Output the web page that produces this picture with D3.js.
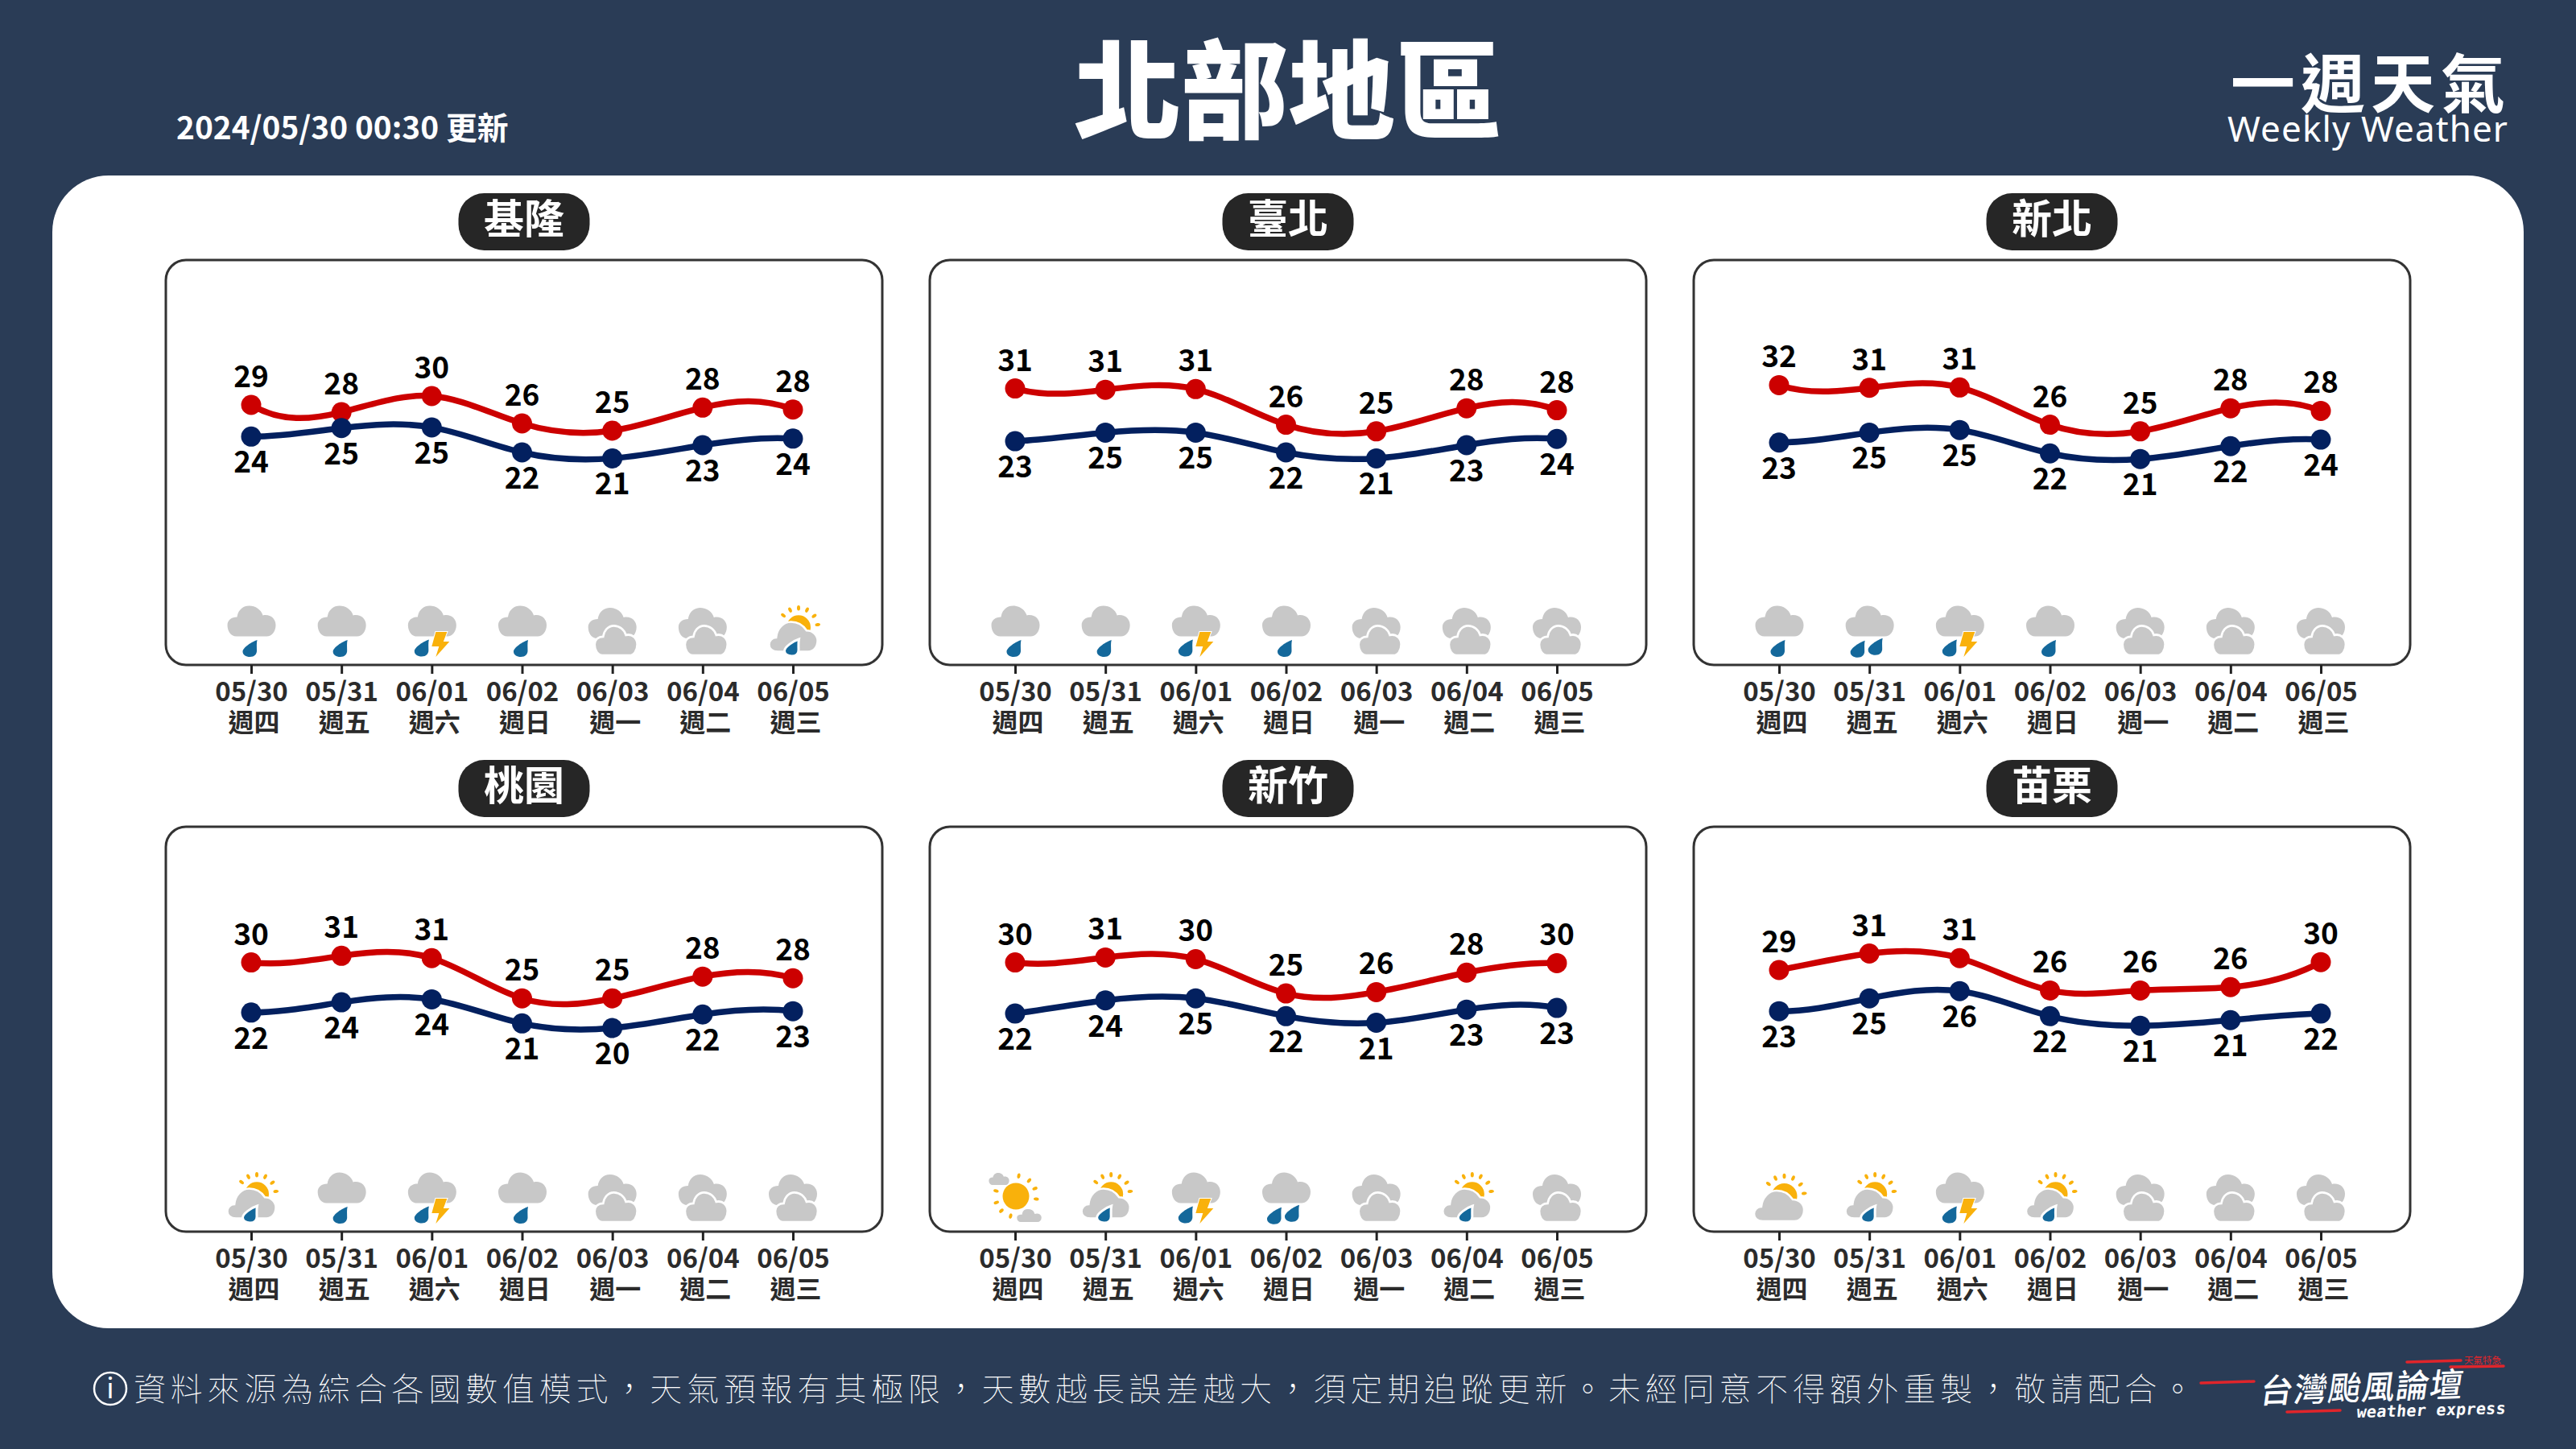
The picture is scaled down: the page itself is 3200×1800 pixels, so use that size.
<!DOCTYPE html>
<html>
  <head>
    <meta charset="utf-8">
    <title>北部地區 一週天氣</title>
    <script src="https://d3js.org/d3.v7.min.js"></script>
    <style>
      html, body { margin: 0; padding: 0; background: #2a3c56; }
      svg { display: block; }
      text { font-family: "Noto Sans CJK TC", "Noto Sans", sans-serif; }
    </style>
  </head>
  <body>
    <script>
      // values, one row per city
      const cities = ["基隆", "臺北", "新北", "桃園", "新竹", "苗栗"];
      const dates = ["05/30", "05/31", "06/01", "06/02", "06/03", "06/04", "06/05"];
      const weekdays = ["週四", "週五", "週六", "週日", "週一", "週二", "週三"];
      const highValues = [
        [28.7, 27.6, 30.05, 25.9, 24.8, 28.3, 28.0],
        [31.2, 31.0, 31.1, 25.7, 24.7, 28.2, 27.9],
        [31.7, 31.3, 31.35, 25.7, 24.7, 28.2, 27.8],
        [30.1, 31.1, 30.75, 24.65, 24.65, 27.95, 27.7],
        [30.1, 30.85, 30.6, 25.4, 25.6, 28.55, 30.0],
        [28.95, 31.45, 30.75, 25.85, 25.85, 26.35, 30.15]
      ];
      const lowValues = [
        [23.9, 25.2, 25.3, 21.5, 20.6, 22.6, 23.6],
        [23.2, 24.5, 24.5, 21.5, 20.6, 22.6, 23.55],
        [23.0, 24.5, 24.9, 21.35, 20.5, 22.45, 23.45],
        [22.5, 24.05, 24.5, 20.85, 20.15, 22.2, 22.7],
        [22.35, 24.35, 24.65, 21.95, 20.95, 22.95, 23.2],
        [22.7, 24.65, 25.75, 21.95, 20.5, 21.35, 22.35]
      ];
      const highLabels = [
        [29, 28, 30, 26, 25, 28, 28],
        [31, 31, 31, 26, 25, 28, 28],
        [32, 31, 31, 26, 25, 28, 28],
        [30, 31, 31, 25, 25, 28, 28],
        [30, 31, 30, 25, 26, 28, 30],
        [29, 31, 31, 26, 26, 26, 30]
      ];
      const lowLabels = [
        [24, 25, 25, 22, 21, 23, 24],
        [23, 25, 25, 22, 21, 23, 24],
        [23, 25, 25, 22, 21, 22, 24],
        [22, 24, 24, 21, 20, 22, 23],
        [22, 24, 25, 22, 21, 23, 23],
        [23, 25, 26, 22, 21, 21, 22]
      ];
      const weather = [
        ["rain", "rain", "thunder", "rain", "cloudy", "cloudy", "sunrain"],
        ["rain", "rain", "thunder", "rain", "cloudy", "cloudy", "cloudy"],
        ["rain", "rain2", "thunder", "rain", "cloudy", "cloudy", "cloudy"],
        ["sunrain", "rain", "thunder", "rain", "cloudy", "cloudy", "cloudy"],
        ["sunny", "sunrain", "thunder", "rain2", "cloudy", "sunrain", "cloudy"],
        ["suncloud", "sunrain", "thunder", "sunrain", "cloudy", "cloudy", "cloudy"]
      ];
      const notice = "資料來源為綜合各國數值模式，天氣預報有其極限，天數越長誤差越大，須定期追蹤更新。未經同意不得額外重製，敬請配合。";

      const bg = "#2a3c56", red = "#cc0000", navy = "#03205f";
      const grey = "#c8c8c8", sunColor = "#f9b10b", dropColor = "#14689b";

      const svg = d3.select("body").append("svg")
          .attr("width", 3200)
          .attr("height", 1800);

      svg.append("rect").attr("width", 3200).attr("height", 1800).attr("fill", bg);
      svg.append("rect")
          .attr("x", 65).attr("y", 218)
          .attr("width", 3070).attr("height", 1432)
          .attr("rx", 70)
          .attr("fill", "#fff");

      // header
      function label(parent, str, x, y, size, weight, fill, anchor) {
        return parent.append("text")
            .attr("x", x).attr("y", y)
            .attr("font-size", size)
            .attr("font-weight", weight)
            .attr("fill", fill)
            .attr("text-anchor", anchor || "start")
            .text(str);
      }
      label(svg, "北部地區", 1600, 162, 133, 900, "#fff", "middle");
      label(svg, "2024/05/30 00:30 更新", 219, 173, 38.8, 700, "#fff");
      label(svg, "一週天氣", 2771, 133, 80, 700, "#fff").attr("letter-spacing", 7);
      label(svg, "Weekly Weather", 2767, 176, 44, 400, "#fff")
          .style("font-family", "'Noto Sans', sans-serif")
          .attr("textLength", 348);

      // footer
      svg.append("circle").attr("cx", 137).attr("cy", 1725).attr("r", 20)
          .attr("fill", "none").attr("stroke", "#fff").attr("stroke-width", 2.5);
      label(svg, "i", 137, 1737, 34, 400, "#fff", "middle");
      label(svg, notice, 166, 1740, 40, 100, "#fff").attr("letter-spacing", 5.8);

      // forum logo
      const logo = svg.append("g");
      [[2990, 1692, 3057, 1690], [3044, 1698, 3110, 1697], [2734, 1718, 2800, 1716], [2841, 1754, 2907, 1752]]
        .forEach(d => logo.append("line")
            .attr("x1", d[0]).attr("y1", d[1]).attr("x2", d[2]).attr("y2", d[3])
            .attr("stroke", "#e0252b").attr("stroke-width", 3.5).attr("stroke-linecap", "round"));
      label(logo, "天氣特急", 3061, 1694, 11.5, 400, "#e0252b");
      label(logo, "台灣颱風論壇", 0, 0, 41, 500, "#fff")
          .attr("transform", "translate(2806,1743) rotate(-2) skewX(-10)")
          .attr("textLength", 252);
      label(logo, "weather express", 0, 0, 20, 700, "#fff")
          .style("font-family", "'DejaVu Sans Mono', monospace")
          .attr("transform", "translate(2927,1761) rotate(-1.5) skewX(-8)")
          .attr("textLength", 185);

      // icon pieces, all drawn around their own centre
      const cloudPath = "M-19,19C-26,19 -30,12 -30,5C-30,-1 -25,-5 -18,-5C-17,-13 -11,-19 -3,-19C5,-19 12,-14 14,-7C23,-9 30,-3 30,5C30,13 25,19 19,19Z";
      const sunCloudPath = "M-20,19C-27,19 -31,15 -31,10C-31,5 -27,1 -22,1C-21,-10 -13,-19 -3,-19C6,-19 13,-14 17,-8C25,-8 31,-2 31,5C31,13 26,19 19,19Z";
      const dropPath = "M8.5,-10.5C2,-8.5 -9.5,-1 -9.5,4C-9.5,8 -5.5,10.5 -0.5,10.5C5,10.5 8,7 8,3C8,-2 7.5,-6 8.5,-10.5Z";
      const boltPath = "M5,-41L19,-41L14.5,-29L22,-29L5,-10L9,-23L0,-23Z";

      function cloud(g, x, y, sx, sy, outline, path) {
        g.append("path")
            .attr("d", path || cloudPath)
            .attr("transform", `translate(${x},${y}) scale(${sx},${sy})`)
            .attr("fill", grey)
            .attr("stroke", outline ? "#fff" : "none")
            .attr("stroke-width", outline ? 2.5 / sx : 0);
      }
      function drop(g, x, y, outline) {
        g.append("path")
            .attr("d", dropPath)
            .attr("transform", `translate(${x},${y})`)
            .attr("fill", dropColor)
            .attr("stroke", outline ? "#fff" : "none")
            .attr("stroke-width", outline ? 3 : 0);
      }
      function rays(g, x, y, radius, angles) {
        angles.forEach(a => {
          g.append("ellipse")
              .attr("rx", 3.3).attr("ry", 2)
              .attr("fill", sunColor)
              .attr("transform", `translate(${x},${y}) rotate(${a}) translate(${radius},0)`);
        });
      }
      function sun(g, x, y, r, angles) {
        rays(g, x, y, r + 9, angles);
        g.append("circle").attr("cx", x).attr("cy", y).attr("r", r).attr("fill", sunColor);
      }

      const halfSunAngles = [-142, -116, -90, -64, -36, -8];
      const fullSunAngles = [-82, -50, -22, 8, 48, 105, 135, 162, 195];

      function drawIcon(g, kind) {
        if (kind === "rain" || kind === "rain2" || kind === "thunder") {
          cloud(g, 0.5, -54.5, 1, 1);
        }
        if (kind === "rain") drop(g, -1, -20.5);
        if (kind === "rain2") {
          drop(g, -14, -19.7);
          drop(g, 8, -22.7);
        }
        if (kind === "thunder") {
          drop(g, -12, -21);
          g.append("path").attr("d", boltPath).attr("fill", sunColor)
              .attr("stroke", "#fff").attr("stroke-width", 2).attr("paint-order", "stroke");
        }
        if (kind === "cloudy") {
          cloud(g, 0, -52, 1, 1);
          cloud(g, 4.5, -30.3, 0.88, 0.97, true);
        }
        if (kind === "sunrain") {
          sun(g, 7, -46.7, 15, halfSunAngles);
          cloud(g, 0.5, -35, 0.97, 0.97, true, sunCloudPath);
          drop(g, -1, -21.5, true);
        }
        if (kind === "suncloud") {
          sun(g, 6.5, -44, 16, halfSunAngles);
          cloud(g, 0, -32, 1, 1, true, sunCloudPath);
        }
        if (kind === "sunny") {
          sun(g, 1, -44, 16.5, fullSunAngles);
          cloud(g, -20, -65.5, 0.42, 0.4);
          cloud(g, 17.5, -20, 0.55, 0.48, true);
        }
      }

      // cubic spline with not-a-knot ends, the lines bulge more than curveNatural does.
      // points are evenly spaced in x so slopes are per step
      function curveNotAKnot(context) {
        let xs, ys;
        return {
          areaStart() {},
          areaEnd() {},
          lineStart() { xs = []; ys = []; },
          point(px, py) { xs.push(+px); ys.push(+py); },
          lineEnd() {
            const n = xs.length;
            const m = d3.range(n).map(() => new Array(n + 1).fill(0));
            m[0][0] = 1; m[0][2] = -1;
            m[0][n] = 4 * ys[1] - 2 * ys[0] - 2 * ys[2];
            m[n - 1][n - 3] = 1; m[n - 1][n - 1] = -1;
            m[n - 1][n] = 4 * ys[n - 2] - 2 * ys[n - 3] - 2 * ys[n - 1];
            for (let i = 1; i < n - 1; i++) {
              m[i][i - 1] = 1; m[i][i] = 4; m[i][i + 1] = 1;
              m[i][n] = 3 * (ys[i + 1] - ys[i - 1]);
            }
            const slope = solve(m);
            context.moveTo(xs[0], ys[0]);
            for (let i = 0; i < n - 1; i++) {
              const h = (xs[i + 1] - xs[i]) / 3;
              context.bezierCurveTo(
                xs[i] + h, ys[i] + slope[i] / 3,
                xs[i + 1] - h, ys[i + 1] - slope[i + 1] / 3,
                xs[i + 1], ys[i + 1]);
            }
          }
        };
      }
      function solve(m) {
        const n = m.length;
        for (let i = 0; i < n; i++) {
          let p = i;
          for (let r = i + 1; r < n; r++) if (Math.abs(m[r][i]) > Math.abs(m[p][i])) p = r;
          [m[i], m[p]] = [m[p], m[i]];
          for (let r = 0; r < n; r++) {
            if (r === i) continue;
            const f = m[r][i] / m[i][i];
            for (let c = i; c <= n; c++) m[r][c] -= f * m[i][c];
          }
        }
        return m.map((row, i) => row[n] / row[i]);
      }

      // small multiples
      const panelW = 890, panelH = 503;
      const panelX = d3.scalePoint().domain(d3.range(3)).range([206, 2104]);
      const panelY = d3.scalePoint().domain(d3.range(2)).range([323, 1027]);

      const x = d3.scalePoint().domain(dates).range([106, 779]);
      const y = d3.scaleLinear().domain([32, 20]).range([153, 251.3]);

      const line = d3.line()
          .x((d, i) => x(dates[i]))
          .y(d => y(d))
          .curve(curveNotAKnot);

      cities.forEach((city, c) => {
        const panel = svg.append("g")
            .attr("transform", `translate(${panelX(c % 3)},${panelY(Math.floor(c / 3))})`);

        panel.append("rect")
            .attr("width", panelW).attr("height", panelH)
            .attr("rx", 25)
            .attr("fill", "#fff")
            .attr("stroke", "#333")
            .attr("stroke-width", 3);

        // city name
        panel.append("rect")
            .attr("x", panelW / 2 - 81.5).attr("y", -83)
            .attr("width", 163).attr("height", 71)
            .attr("rx", 32)
            .attr("fill", "#262626");
        label(panel, city, panelW / 2, -33, 50, 700, "#fff", "middle");

        // date axis
        const axis = panel.append("g")
            .attr("transform", `translate(0,${panelH})`)
            .call(d3.axisBottom(x).tickSize(11).tickPadding(0));
        axis.select(".domain").remove();
        axis.selectAll(".tick line").attr("stroke", "#222").attr("stroke-width", 3);
        axis.selectAll(".tick text")
            .attr("y", 45)
            .attr("dy", null)
            .attr("font-size", 33)
            .attr("font-weight", 700)
            .attr("fill", "#2b2b2b");
        axis.selectAll(".tick").append("text")
            .attr("x", 3)
            .attr("y", 83)
            .attr("text-anchor", "middle")
            .attr("font-size", 32)
            .attr("font-weight", 700)
            .attr("fill", "#2b2b2b")
            .text((d, i) => weekdays[i]);

        // weather icons sit on the axis line
        dates.forEach((d, i) => {
          drawIcon(panel.append("g").attr("transform", `translate(${x(d)},${panelH})`), weather[c][i]);
        });

        // high and low lines
        [
          {values: highValues[c], labels: highLabels[c], color: red, dy: -22},
          {values: lowValues[c], labels: lowLabels[c], color: navy, dy: 45}
        ].forEach(s => {
          panel.append("path")
              .attr("d", line(s.values))
              .attr("fill", "none")
              .attr("stroke", s.color)
              .attr("stroke-width", 7.5);
          panel.selectAll(null)
              .data(s.values)
              .join("circle")
              .attr("cx", (d, i) => x(dates[i]))
              .attr("cy", d => y(d))
              .attr("r", 12.5)
              .attr("fill", s.color);
          panel.selectAll(null)
              .data(s.values)
              .join("text")
              .attr("x", (d, i) => x(dates[i]))
              .attr("y", d => y(d) + s.dy)
              .attr("text-anchor", "middle")
              .attr("font-size", 37)
              .attr("font-weight", 700)
              .attr("fill", "#000")
              .text((d, i) => s.labels[i]);
        });
      });
    </script>
  </body>
</html>
